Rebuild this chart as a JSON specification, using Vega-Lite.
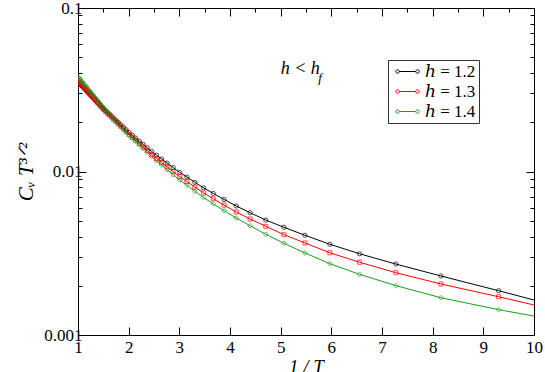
{
  "$schema": "https://vega.github.io/schema/vega-lite/v6.json",
  "width": 456,
  "height": 327,
  "autosize": {"type": "none"},
  "padding": {"left": 78, "top": 8, "right": 11, "bottom": 37},
  "background": "white",
  "config": {"view": {"stroke": null}, "font": "Liberation Serif, Times New Roman, Times, DejaVu Serif, serif"},
  "datasets": {
    "curves": [
      {"h": "ℎ = 1.2", "x": 10, "y": 0.001637},
      {"h": "ℎ = 1.2", "x": 9.302, "y": 0.001866},
      {"h": "ℎ = 1.2", "x": 8.163, "y": 0.002296},
      {"h": "ℎ = 1.2", "x": 7.273, "y": 0.002716},
      {"h": "ℎ = 1.2", "x": 6.557, "y": 0.003140},
      {"h": "ℎ = 1.2", "x": 5.970, "y": 0.003589},
      {"h": "ℎ = 1.2", "x": 5.479, "y": 0.004074},
      {"h": "ℎ = 1.2", "x": 5.063, "y": 0.004560},
      {"h": "ℎ = 1.2", "x": 4.706, "y": 0.005047},
      {"h": "ℎ = 1.2", "x": 4.396, "y": 0.005597},
      {"h": "ℎ = 1.2", "x": 4.124, "y": 0.006152},
      {"h": "ℎ = 1.2", "x": 3.883, "y": 0.006745},
      {"h": "ℎ = 1.2", "x": 3.670, "y": 0.007345},
      {"h": "ℎ = 1.2", "x": 3.478, "y": 0.007943},
      {"h": "ℎ = 1.2", "x": 3.306, "y": 0.008591},
      {"h": "ℎ = 1.2", "x": 3.150, "y": 0.009254},
      {"h": "ℎ = 1.2", "x": 3.008, "y": 0.009872},
      {"h": "ℎ = 1.2", "x": 2.878, "y": 0.010570},
      {"h": "ℎ = 1.2", "x": 2.759, "y": 0.011256},
      {"h": "ℎ = 1.2", "x": 2.649, "y": 0.011933},
      {"h": "ℎ = 1.2", "x": 2.548, "y": 0.012589},
      {"h": "ℎ = 1.2", "x": 2.454, "y": 0.013270},
      {"h": "ℎ = 1.2", "x": 2.367, "y": 0.013976},
      {"h": "ℎ = 1.2", "x": 2.286, "y": 0.014668},
      {"h": "ℎ = 1.2", "x": 2.210, "y": 0.015350},
      {"h": "ℎ = 1.2", "x": 2.139, "y": 0.016014},
      {"h": "ℎ = 1.2", "x": 2.073, "y": 0.016657},
      {"h": "ℎ = 1.2", "x": 2.010, "y": 0.017294},
      {"h": "ℎ = 1.2", "x": 1.951, "y": 0.017976},
      {"h": "ℎ = 1.2", "x": 1.896, "y": 0.018646},
      {"h": "ℎ = 1.2", "x": 1.843, "y": 0.019316},
      {"h": "ℎ = 1.2", "x": 1.794, "y": 0.019957},
      {"h": "ℎ = 1.2", "x": 1.747, "y": 0.020592},
      {"h": "ℎ = 1.2", "x": 1.702, "y": 0.021217},
      {"h": "ℎ = 1.2", "x": 1.660, "y": 0.021822},
      {"h": "ℎ = 1.2", "x": 1.619, "y": 0.022428},
      {"h": "ℎ = 1.2", "x": 1.581, "y": 0.023004},
      {"h": "ℎ = 1.2", "x": 1.544, "y": 0.023577},
      {"h": "ℎ = 1.2", "x": 1.509, "y": 0.024133},
      {"h": "ℎ = 1.2", "x": 1.476, "y": 0.024723},
      {"h": "ℎ = 1.2", "x": 1.444, "y": 0.025321},
      {"h": "ℎ = 1.2", "x": 1.413, "y": 0.025924},
      {"h": "ℎ = 1.2", "x": 1.384, "y": 0.026497},
      {"h": "ℎ = 1.2", "x": 1.356, "y": 0.027065},
      {"h": "ℎ = 1.2", "x": 1.329, "y": 0.027619},
      {"h": "ℎ = 1.2", "x": 1.303, "y": 0.028165},
      {"h": "ℎ = 1.2", "x": 1.278, "y": 0.028701},
      {"h": "ℎ = 1.2", "x": 1.254, "y": 0.029228},
      {"h": "ℎ = 1.2", "x": 1.231, "y": 0.029737},
      {"h": "ℎ = 1.2", "x": 1.208, "y": 0.030263},
      {"h": "ℎ = 1.2", "x": 1.187, "y": 0.030740},
      {"h": "ℎ = 1.2", "x": 1.166, "y": 0.031232},
      {"h": "ℎ = 1.2", "x": 1.146, "y": 0.031711},
      {"h": "ℎ = 1.2", "x": 1.127, "y": 0.032167},
      {"h": "ℎ = 1.2", "x": 1.108, "y": 0.032629},
      {"h": "ℎ = 1.2", "x": 1.090, "y": 0.033075},
      {"h": "ℎ = 1.2", "x": 1.072, "y": 0.033528},
      {"h": "ℎ = 1.2", "x": 1.055, "y": 0.033963},
      {"h": "ℎ = 1.2", "x": 1.039, "y": 0.034371},
      {"h": "ℎ = 1.2", "x": 1.023, "y": 0.034793},
      {"h": "ℎ = 1.2", "x": 1.008, "y": 0.035188},
      {"h": "ℎ = 1.2", "x": 1, "y": 0.035399},

      {"h": "ℎ = 1.3", "x": 10, "y": 0.001526},
      {"h": "ℎ = 1.3", "x": 9.302, "y": 0.001714},
      {"h": "ℎ = 1.3", "x": 8.163, "y": 0.002051},
      {"h": "ℎ = 1.3", "x": 7.273, "y": 0.002404},
      {"h": "ℎ = 1.3", "x": 6.557, "y": 0.002786},
      {"h": "ℎ = 1.3", "x": 5.970, "y": 0.003184},
      {"h": "ℎ = 1.3", "x": 5.479, "y": 0.003656},
      {"h": "ℎ = 1.3", "x": 5.063, "y": 0.004107},
      {"h": "ℎ = 1.3", "x": 4.706, "y": 0.004624},
      {"h": "ℎ = 1.3", "x": 4.396, "y": 0.005123},
      {"h": "ℎ = 1.3", "x": 4.124, "y": 0.005652},
      {"h": "ℎ = 1.3", "x": 3.883, "y": 0.006226},
      {"h": "ℎ = 1.3", "x": 3.670, "y": 0.006813},
      {"h": "ℎ = 1.3", "x": 3.478, "y": 0.007399},
      {"h": "ℎ = 1.3", "x": 3.306, "y": 0.008033},
      {"h": "ℎ = 1.3", "x": 3.150, "y": 0.008686},
      {"h": "ℎ = 1.3", "x": 3.008, "y": 0.009298},
      {"h": "ℎ = 1.3", "x": 2.878, "y": 0.009991},
      {"h": "ℎ = 1.3", "x": 2.759, "y": 0.010673},
      {"h": "ℎ = 1.3", "x": 2.649, "y": 0.011347},
      {"h": "ℎ = 1.3", "x": 2.548, "y": 0.012006},
      {"h": "ℎ = 1.3", "x": 2.454, "y": 0.012694},
      {"h": "ℎ = 1.3", "x": 2.367, "y": 0.013412},
      {"h": "ℎ = 1.3", "x": 2.286, "y": 0.014119},
      {"h": "ℎ = 1.3", "x": 2.210, "y": 0.014814},
      {"h": "ℎ = 1.3", "x": 2.139, "y": 0.015499},
      {"h": "ℎ = 1.3", "x": 2.073, "y": 0.016159},
      {"h": "ℎ = 1.3", "x": 2.010, "y": 0.016816},
      {"h": "ℎ = 1.3", "x": 1.951, "y": 0.017523},
      {"h": "ℎ = 1.3", "x": 1.896, "y": 0.018218},
      {"h": "ℎ = 1.3", "x": 1.843, "y": 0.018910},
      {"h": "ℎ = 1.3", "x": 1.794, "y": 0.019580},
      {"h": "ℎ = 1.3", "x": 1.747, "y": 0.020245},
      {"h": "ℎ = 1.3", "x": 1.702, "y": 0.020898},
      {"h": "ℎ = 1.3", "x": 1.660, "y": 0.021528},
      {"h": "ℎ = 1.3", "x": 1.619, "y": 0.022166},
      {"h": "ℎ = 1.3", "x": 1.581, "y": 0.022766},
      {"h": "ℎ = 1.3", "x": 1.544, "y": 0.023372},
      {"h": "ℎ = 1.3", "x": 1.509, "y": 0.023956},
      {"h": "ℎ = 1.3", "x": 1.476, "y": 0.024581},
      {"h": "ℎ = 1.3", "x": 1.444, "y": 0.025217},
      {"h": "ℎ = 1.3", "x": 1.413, "y": 0.025858},
      {"h": "ℎ = 1.3", "x": 1.384, "y": 0.026472},
      {"h": "ℎ = 1.3", "x": 1.356, "y": 0.027077},
      {"h": "ℎ = 1.3", "x": 1.329, "y": 0.027670},
      {"h": "ℎ = 1.3", "x": 1.303, "y": 0.028249},
      {"h": "ℎ = 1.3", "x": 1.278, "y": 0.028827},
      {"h": "ℎ = 1.3", "x": 1.254, "y": 0.029390},
      {"h": "ℎ = 1.3", "x": 1.231, "y": 0.029937},
      {"h": "ℎ = 1.3", "x": 1.208, "y": 0.030500},
      {"h": "ℎ = 1.3", "x": 1.187, "y": 0.031017},
      {"h": "ℎ = 1.3", "x": 1.166, "y": 0.031543},
      {"h": "ℎ = 1.3", "x": 1.146, "y": 0.032063},
      {"h": "ℎ = 1.3", "x": 1.127, "y": 0.032554},
      {"h": "ℎ = 1.3", "x": 1.108, "y": 0.033052},
      {"h": "ℎ = 1.3", "x": 1.090, "y": 0.033536},
      {"h": "ℎ = 1.3", "x": 1.072, "y": 0.034025},
      {"h": "ℎ = 1.3", "x": 1.055, "y": 0.034498},
      {"h": "ℎ = 1.3", "x": 1.039, "y": 0.034938},
      {"h": "ℎ = 1.3", "x": 1.023, "y": 0.035399},
      {"h": "ℎ = 1.3", "x": 1.008, "y": 0.035826},
      {"h": "ℎ = 1.3", "x": 1, "y": 0.036058},

      {"h": "ℎ = 1.4", "x": 10, "y": 0.001306},
      {"h": "ℎ = 1.4", "x": 9.302, "y": 0.001429},
      {"h": "ℎ = 1.4", "x": 8.163, "y": 0.001690},
      {"h": "ℎ = 1.4", "x": 7.273, "y": 0.002005},
      {"h": "ℎ = 1.4", "x": 6.557, "y": 0.002350},
      {"h": "ℎ = 1.4", "x": 5.970, "y": 0.002729},
      {"h": "ℎ = 1.4", "x": 5.479, "y": 0.003177},
      {"h": "ℎ = 1.4", "x": 5.063, "y": 0.003639},
      {"h": "ℎ = 1.4", "x": 4.706, "y": 0.004131},
      {"h": "ℎ = 1.4", "x": 4.396, "y": 0.004661},
      {"h": "ℎ = 1.4", "x": 4.124, "y": 0.005192},
      {"h": "ℎ = 1.4", "x": 3.883, "y": 0.005762},
      {"h": "ℎ = 1.4", "x": 3.670, "y": 0.006343},
      {"h": "ℎ = 1.4", "x": 3.478, "y": 0.006928},
      {"h": "ℎ = 1.4", "x": 3.306, "y": 0.007569},
      {"h": "ℎ = 1.4", "x": 3.150, "y": 0.008230},
      {"h": "ℎ = 1.4", "x": 3.008, "y": 0.008855},
      {"h": "ℎ = 1.4", "x": 2.878, "y": 0.009561},
      {"h": "ℎ = 1.4", "x": 2.759, "y": 0.010259},
      {"h": "ℎ = 1.4", "x": 2.649, "y": 0.010952},
      {"h": "ℎ = 1.4", "x": 2.548, "y": 0.011633},
      {"h": "ℎ = 1.4", "x": 2.454, "y": 0.012345},
      {"h": "ℎ = 1.4", "x": 2.367, "y": 0.013088},
      {"h": "ℎ = 1.4", "x": 2.286, "y": 0.013826},
      {"h": "ℎ = 1.4", "x": 2.210, "y": 0.014554},
      {"h": "ℎ = 1.4", "x": 2.139, "y": 0.015269},
      {"h": "ℎ = 1.4", "x": 2.073, "y": 0.015962},
      {"h": "ℎ = 1.4", "x": 2.010, "y": 0.016657},
      {"h": "ℎ = 1.4", "x": 1.951, "y": 0.017410},
      {"h": "ℎ = 1.4", "x": 1.896, "y": 0.018155},
      {"h": "ℎ = 1.4", "x": 1.843, "y": 0.018901},
      {"h": "ℎ = 1.4", "x": 1.794, "y": 0.019625},
      {"h": "ℎ = 1.4", "x": 1.747, "y": 0.020338},
      {"h": "ℎ = 1.4", "x": 1.702, "y": 0.021047},
      {"h": "ℎ = 1.4", "x": 1.660, "y": 0.021737},
      {"h": "ℎ = 1.4", "x": 1.619, "y": 0.022428},
      {"h": "ℎ = 1.4", "x": 1.581, "y": 0.023088},
      {"h": "ℎ = 1.4", "x": 1.544, "y": 0.023753},
      {"h": "ℎ = 1.4", "x": 1.509, "y": 0.024390},
      {"h": "ℎ = 1.4", "x": 1.476, "y": 0.025079},
      {"h": "ℎ = 1.4", "x": 1.444, "y": 0.025787},
      {"h": "ℎ = 1.4", "x": 1.413, "y": 0.026497},
      {"h": "ℎ = 1.4", "x": 1.384, "y": 0.027177},
      {"h": "ℎ = 1.4", "x": 1.356, "y": 0.027855},
      {"h": "ℎ = 1.4", "x": 1.329, "y": 0.028517},
      {"h": "ℎ = 1.4", "x": 1.303, "y": 0.029168},
      {"h": "ℎ = 1.4", "x": 1.278, "y": 0.029814},
      {"h": "ℎ = 1.4", "x": 1.254, "y": 0.030451},
      {"h": "ℎ = 1.4", "x": 1.231, "y": 0.031067},
      {"h": "ℎ = 1.4", "x": 1.208, "y": 0.031703},
      {"h": "ℎ = 1.4", "x": 1.187, "y": 0.032285},
      {"h": "ℎ = 1.4", "x": 1.166, "y": 0.032885},
      {"h": "ℎ = 1.4", "x": 1.146, "y": 0.033466},
      {"h": "ℎ = 1.4", "x": 1.127, "y": 0.034025},
      {"h": "ℎ = 1.4", "x": 1.108, "y": 0.034594},
      {"h": "ℎ = 1.4", "x": 1.090, "y": 0.035139},
      {"h": "ℎ = 1.4", "x": 1.072, "y": 0.035702},
      {"h": "ℎ = 1.4", "x": 1.055, "y": 0.036232},
      {"h": "ℎ = 1.4", "x": 1.039, "y": 0.036744},
      {"h": "ℎ = 1.4", "x": 1.023, "y": 0.037264},
      {"h": "ℎ = 1.4", "x": 1.008, "y": 0.037758},
      {"h": "ℎ = 1.4", "x": 1, "y": 0.038020}
    ],
    "note": [{"tx": 5.0, "ty": 0.0424, "t": "h < h"}],
    "sub": [{"tx": 5.74, "ty": 0.0372, "t": "f"}]
  },
  "resolve": {"axis": {"x": "independent", "y": "independent"}},
  "layer": [
    {
      "data": {"name": "curves"},
      "mark": {"type": "line", "strokeWidth": 1, "clip": true},
      "encoding": {
        "x": {
          "field": "x", "type": "quantitative",
          "scale": {"domain": [1, 10], "nice": false, "zero": false},
          "axis": {
            "orient": "bottom",
            "values": [1, 1.5, 2, 2.5, 3, 3.5, 4, 4.5, 5, 5.5, 6, 6.5, 7, 7.5, 8, 8.5, 9, 9.5, 10],
            "format": "d",
            "labelExpr": "datum.value % 1 == 0 ? datum.label : ''",
            "tickSize": {"condition": {"test": "datum.value % 1 == 0", "value": -8}, "value": -4},
            "tickColor": "black", "domainColor": "black", "grid": false,
            "labelFont": "Liberation Serif, Times New Roman, Times, DejaVu Serif, serif", "labelFontSize": 17, "labelColor": "black",
            "labelFlush": false, "labelOverlap": false, "labelPadding": 12,
            "title": "1 / T", "titleFont": "Liberation Serif, Times New Roman, Times, DejaVu Serif, serif", "titleFontSize": 19,
            "titleFontStyle": "italic", "titleFontWeight": "normal", "titleColor": "black",
            "titlePadding": 2
          }
        },
        "y": {
          "field": "y", "type": "quantitative",
          "scale": {"type": "log", "domain": [0.001, 0.1], "nice": false},
          "axis": {
            "orient": "left",
            "values": [0.001, 0.002, 0.003, 0.004, 0.005, 0.006, 0.007, 0.008, 0.009, 0.01, 0.02, 0.03, 0.04, 0.05, 0.06, 0.07, 0.08, 0.09, 0.1],
            "format": "~g",
            "labelExpr": "(datum.value == 0.001 || datum.value == 0.01 || datum.value == 0.1) ? datum.label : ''",
            "tickSize": {"condition": {"test": "datum.value == 0.001 || datum.value == 0.01 || datum.value == 0.1", "value": -8}, "value": -4},
            "tickColor": "black", "domainColor": "black", "grid": false,
            "labelFont": "Liberation Serif, Times New Roman, Times, DejaVu Serif, serif", "labelFontSize": 17, "labelColor": "black",
            "labelFlush": false, "labelOverlap": false, "labelPadding": 4,
            "title": "Cᵥ T³ᐟ²", "titleFont": "Liberation Serif, Times New Roman, Times, DejaVu Serif, serif", "titleFontSize": 21,
            "titleFontStyle": "italic", "titleFontWeight": "normal", "titleColor": "black",
            "titlePadding": 7
          }
        },
        "color": {
          "field": "h", "type": "nominal",
          "scale": {"domain": ["ℎ = 1.2", "ℎ = 1.3", "ℎ = 1.4"], "range": ["#000000", "#ff0000", "#1a9e1a"]},
          "legend": {
            "title": null, "orient": "none", "legendX": 310, "legendY": 52,
            "strokeColor": "#333333", "padding": 3, "fillColor": "white",
            "labelFont": "Liberation Serif, Times New Roman, Times, DejaVu Serif, serif", "labelFontSize": 17, "labelColor": "black",
            "symbolType": "M-2.35,0A0.35,0.35 0 1,0 -1.65,0A0.35,0.35 0 1,0 -2.35,0ZM-1.65,0L1.65,0M1.65,0A0.35,0.35 0 1,0 2.35,0A0.35,0.35 0 1,0 1.65,0Z",
            "symbolSize": 100, "symbolStrokeWidth": 1, "symbolFillColor": "white",
            "symbolOffset": 8, "labelOffset": 9, "rowPadding": 2
          }
        }
      }
    },
    {
      "data": {"name": "curves"},
      "transform": [{"filter": "datum.h == 'ℎ = 1.2' && datum.x > 1.001 && datum.x < 9.99"}],
      "mark": {"type": "point", "shape": "circle", "filled": false, "strokeWidth": 1, "size": 18, "clip": true},
      "encoding": {
        "x": {
          "field": "x", "type": "quantitative",
          "axis": {
            "orient": "top",
            "values": [1, 1.5, 2, 2.5, 3, 3.5, 4, 4.5, 5, 5.5, 6, 6.5, 7, 7.5, 8, 8.5, 9, 9.5, 10],
            "labels": false, "title": null, "grid": false,
            "tickSize": {"condition": {"test": "datum.value % 1 == 0", "value": -8}, "value": -4},
            "tickColor": "black", "domainColor": "black"
          }
        },
        "y": {
          "field": "y", "type": "quantitative",
          "axis": {
            "orient": "right",
            "values": [0.001, 0.002, 0.003, 0.004, 0.005, 0.006, 0.007, 0.008, 0.009, 0.01, 0.02, 0.03, 0.04, 0.05, 0.06, 0.07, 0.08, 0.09, 0.1],
            "labels": false, "title": null, "grid": false,
            "tickSize": {"condition": {"test": "datum.value == 0.001 || datum.value == 0.01 || datum.value == 0.1", "value": -8}, "value": -4},
            "tickColor": "black", "domainColor": "black"
          }
        },
        "color": {"field": "h", "type": "nominal", "legend": null}
      }
    },
    {
      "data": {"name": "curves"},
      "transform": [{"filter": "datum.h == 'ℎ = 1.3' && datum.x > 1.001 && datum.x < 9.99"}],
      "mark": {"type": "point", "shape": "square", "filled": false, "strokeWidth": 1, "size": 16, "clip": true},
      "encoding": {
        "x": {"field": "x", "type": "quantitative", "axis": null},
        "y": {"field": "y", "type": "quantitative", "axis": null},
        "color": {"field": "h", "type": "nominal", "legend": null}
      }
    },
    {
      "data": {"name": "curves"},
      "transform": [{"filter": "datum.h == 'ℎ = 1.4' && datum.x > 1.001 && datum.x < 9.99"}],
      "mark": {"type": "point", "shape": "diamond", "filled": false, "strokeWidth": 1, "size": 22, "clip": true},
      "encoding": {
        "x": {"field": "x", "type": "quantitative", "axis": null},
        "y": {"field": "y", "type": "quantitative", "axis": null},
        "color": {"field": "h", "type": "nominal", "legend": null}
      }
    },
    {
      "data": {"name": "note"},
      "mark": {"type": "text", "font": "Liberation Serif, Times New Roman, Times, DejaVu Serif, serif", "fontSize": 18, "fontStyle": "italic", "align": "left", "baseline": "middle", "color": "black"},
      "encoding": {
        "x": {"field": "tx", "type": "quantitative", "axis": null},
        "y": {"field": "ty", "type": "quantitative", "axis": null},
        "text": {"field": "t"}
      }
    },
    {
      "data": {"name": "sub"},
      "mark": {"type": "text", "font": "Liberation Serif, Times New Roman, Times, DejaVu Serif, serif", "fontSize": 13, "fontStyle": "italic", "align": "left", "baseline": "middle", "color": "black"},
      "encoding": {
        "x": {"field": "tx", "type": "quantitative", "axis": null},
        "y": {"field": "ty", "type": "quantitative", "axis": null},
        "text": {"field": "t"}
      }
    }
  ]
}
